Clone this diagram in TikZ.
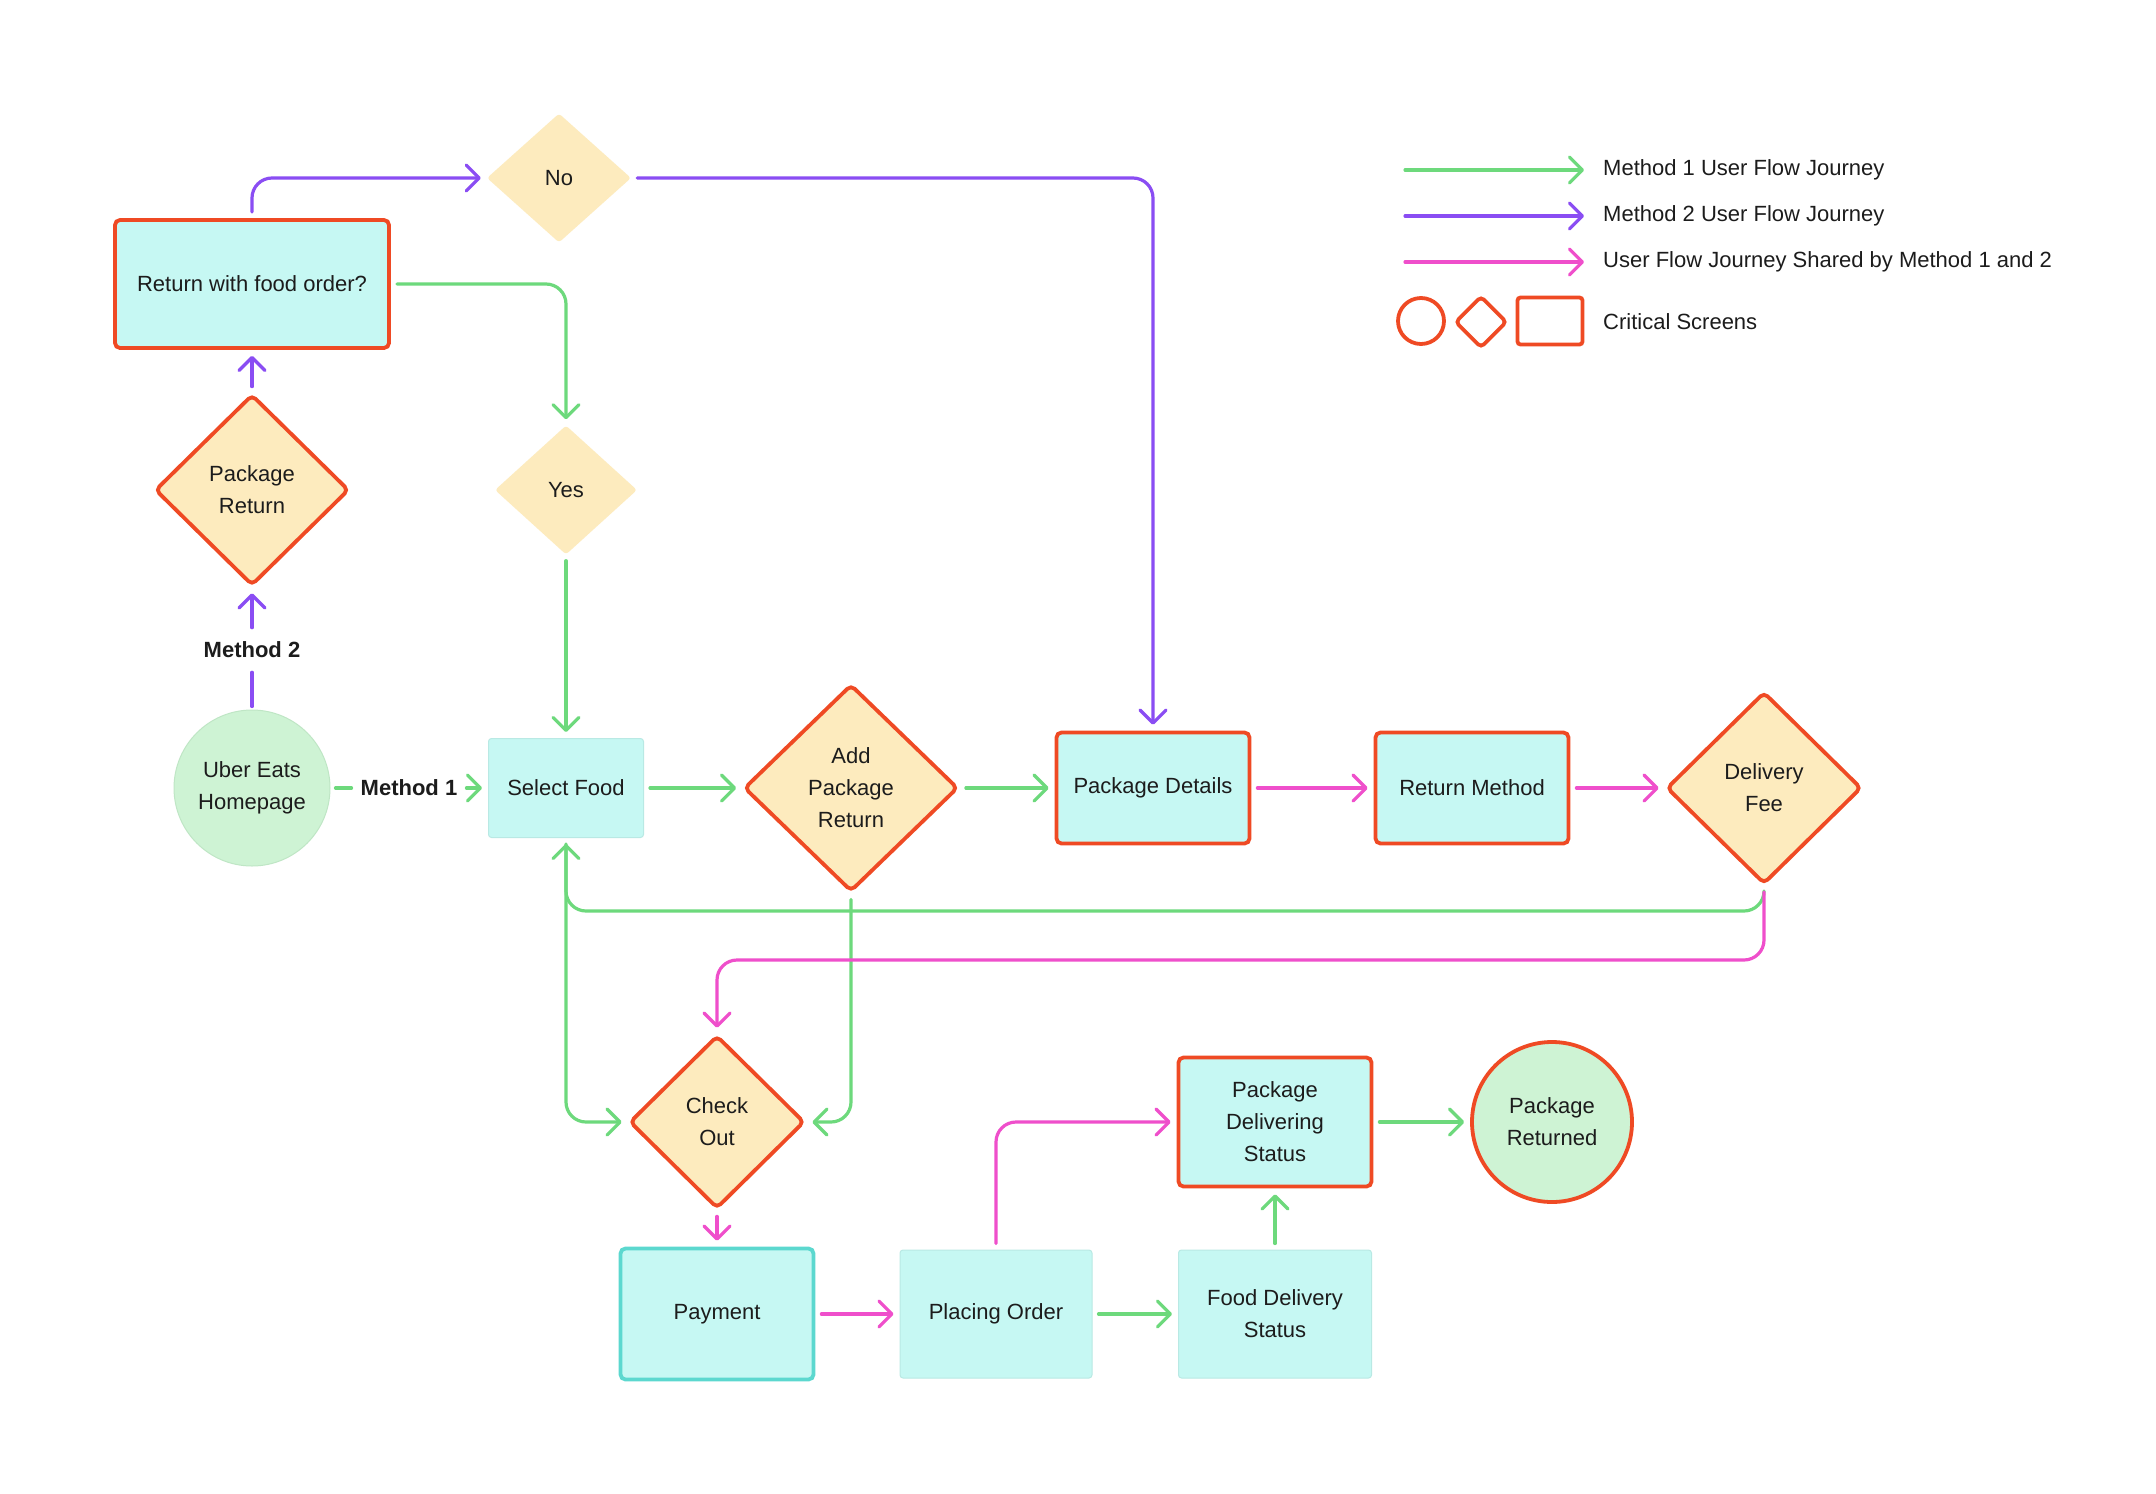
\documentclass[tikz,border=0pt]{standalone}
\usepackage{fontspec}
\setmainfont{Liberation Sans}
\usetikzlibrary{arrows.meta,shapes.geometric}
\definecolor{cgreen}{HTML}{6DD97C}
\definecolor{cpurple}{HTML}{8A4DF3}
\definecolor{cpink}{HTML}{EF4FCB}
\definecolor{cred}{HTML}{EF4A24}
\definecolor{ccyan}{HTML}{C6F8F3}
\definecolor{ccyanline}{HTML}{B9E9E4}
\definecolor{cbeige}{HTML}{FDEBBE}
\definecolor{clgreen}{HTML}{CEF3D4}
\definecolor{clgreenline}{HTML}{BFE6C5}
\definecolor{cteal}{HTML}{5CD8CF}
\definecolor{ctext}{HTML}{1C1C1C}
\begin{document}
\begin{tikzpicture}[x=1pt,y=-1pt,
  every node/.style={align=center, inner sep=0pt, text=ctext, font=\fontsize{22}{32}\selectfont},
  critbox/.style={rectangle, rounded corners=5pt, fill=ccyan, draw=cred, line width=3.8pt},
  plainbox/.style={rectangle, rounded corners=3pt, fill=ccyan, draw=ccyanline, line width=1pt},
  paybox/.style={rectangle, rounded corners=5pt, fill=ccyan, draw=cteal, line width=3.8pt},
  critdia/.style={diamond, rounded corners=5pt, fill=cbeige, draw=cred, line width=3.8pt},
  plaindia/.style={diamond, rounded corners=3pt, fill=cbeige},
  homecirc/.style={circle, fill=clgreen, draw=clgreenline, line width=1pt},
  critcirc/.style={circle, fill=clgreen, draw=cred, line width=3.8pt},
  label/.style={font=\fontsize{22}{32}\selectfont\bfseries},
  conn/.style={line width=3.2pt, line cap=round, line join=round, rounded corners=20pt},
  flow/.style={conn, -{Straight Barb[length=13pt,width=26pt,round]}, shorten <=6pt, shorten >=6pt},
  legshape/.style={draw=cred, line width=3.8pt, fill=white}
]
\fill[white] (0,0) rectangle (2156,1494);
\useasboundingbox (0,0) rectangle (2156,1494);

% nodes
\node[critbox, minimum width=274pt, minimum height=128pt] (rwfo) at (252,284) {Return with food order?};
\node[plaindia, minimum width=144pt, minimum height=129pt] (no) at (559,178) {No};
\node[plaindia, minimum width=142pt, minimum height=129pt] (yes) at (566,490) {Yes};
\node[critdia, minimum width=194pt, minimum height=191pt] (pr) at (252,490) {Package\\Return};
\node[label, inner xsep=4pt, inner ysep=14pt] (m2) at (252,650) {Method 2};
\node[homecirc, minimum size=156pt] (home) at (252,788) {Uber Eats\\Homepage};
\node[label, inner xsep=9pt, inner ysep=4pt] (m1) at (409,788) {Method 1};
\node[plainbox, minimum width=155pt, minimum height=99pt] (sf) at (566,788) {Select Food};
\node[critdia, minimum width=214pt, minimum height=207pt] (apr) at (851,788) {Add\\Package\\Return};
\node[critbox, minimum width=193pt, minimum height=111pt] (pd) at (1153,788) {Package Details};
\node[critbox, minimum width=193pt, minimum height=111pt] (rm) at (1472,788) {Return Method};
\node[critdia, minimum width=195pt, minimum height=192pt] (df) at (1764,788) {Delivery\\Fee};
\node[critdia, minimum width=175pt, minimum height=173pt] (co) at (717,1122) {Check\\Out};
\node[paybox, minimum width=193pt, minimum height=131pt] (pay) at (717,1314) {Payment};
\node[plainbox, minimum width=192pt, minimum height=128pt] (po) at (996,1314) {Placing Order};
\node[plainbox, minimum width=193pt, minimum height=128pt] (fds) at (1275,1314) {Food Delivery\\Status};
\node[critbox, minimum width=193pt, minimum height=129pt] (pds) at (1275,1122) {Package\\Delivering\\Status};
\node[critcirc, minimum size=160pt] (pret) at (1552,1122) {Package\\Returned};

% connectors
\draw[flow, cpurple] (rwfo.north) |- (no.west);
\draw[flow, cpurple] (no.east) -| (pd.north);
\draw[flow, cgreen] (rwfo.east) -| (yes.north);
\draw[flow, cgreen] (yes.south) -- (sf.north);
\draw[flow, cpurple] (pr.north) -- (rwfo.south);
\draw[conn, cpurple, shorten <=3pt] (home.north) -- (m2.south);
\draw[flow, cpurple, shorten <=0pt] (m2.north) -- (pr.south);
\draw[conn, cgreen, shorten <=5pt] (home.east) -- (m1.west);
\draw[flow, cgreen, shorten <=0pt] (m1.east) -- (sf.west);
\draw[flow, cgreen] (sf.east) -- (apr.west);
\draw[flow, cgreen] (apr.east) -- (pd.west);
\draw[flow, cpink] (pd.east) -- (rm.west);
\draw[flow, cpink] (rm.east) -- (df.west);
\draw[flow, cgreen] (df.south) -- (df.south |- 0,911) -| (sf.south);
\draw[flow, cgreen] (sf.south) |- (co.west);
\draw[flow, cgreen] (apr.south) |- (co.east);
\draw[flow, cpink] (df.south) -- (df.south |- 0,960) -| (co.north);
\draw[flow, cpink] (co.south) -- (pay.north);
\draw[flow, cpink] (pay.east) -- (po.west);
\draw[flow, cpink] (po.north) |- (pds.west);
\draw[flow, cgreen] (po.east) -- (fds.west);
\draw[flow, cgreen] (fds.north) -- (pds.south);
\draw[flow, cgreen] (pds.east) -- (pret.west);

% legend
\coordinate (l1) at (1405,170);
\coordinate (l2) at (1405,216);
\coordinate (l3) at (1405,262);
\node[anchor=west] (t1) at (1603,170) {Method 1 User Flow Journey};
\node[anchor=west] (t2) at (1603,216) {Method 2 User Flow Journey};
\node[anchor=west] (t3) at (1603,262) {User Flow Journey Shared by Method 1 and 2};
\draw[flow, cgreen, shorten <=0pt, shorten >=19pt] (l1) -- (t1.west);
\draw[flow, cpurple, shorten <=0pt, shorten >=19pt] (l2) -- (t2.west);
\draw[flow, cpink, shorten <=0pt, shorten >=19pt] (l3) -- (t3.west);
\node[legshape, circle, minimum size=46pt] (lc) at (1421,321) {};
\node[legshape, diamond, rounded corners=4pt, minimum width=52pt, minimum height=52pt] (ld) at (1481,322) {};
\node[legshape, rectangle, rounded corners=3pt, minimum width=65pt, minimum height=47pt] (lr) at (1550,321) {};
\node[anchor=west] (t4) at (1603,322) {Critical Screens};
\end{tikzpicture}
\end{document}
